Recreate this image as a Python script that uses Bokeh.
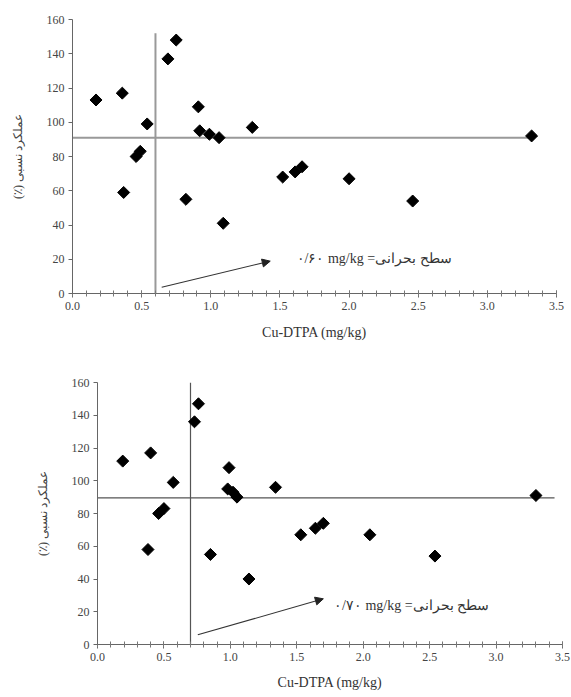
import math
from bokeh.plotting import figure
from bokeh.models import (Range1d, SingleIntervalTicker, FixedTicker, NumeralTickFormatter,
                          Arrow, NormalHead, Label)
from bokeh.embed import file_html
from bokeh.resources import INLINE

# ---- data: top panel ----
x_top = [0.17, 0.36, 0.37, 0.46, 0.49, 0.54, 0.69, 0.75, 0.82, 0.91, 0.92,
         0.99, 1.06, 1.09, 1.30, 1.52, 1.61, 1.66, 2.00, 2.46, 3.32]
y_top = [113, 117, 59, 80, 83, 99, 137, 148, 55, 109, 95,
         93, 91, 41, 97, 68, 71, 74, 67, 54, 92]
crit_top = 0.6
yield_line_top = 91
crit_line_top_y = [0, 152]
yield_line_top_x = [0, 3.30]
arrow_top = (0.645, 3.7, 1.43, 18.9)
label_top = (1.62, 20.5)
text_top = "۰/۶۰ mg/kg =سطح بحرانی"

# ---- data: bottom panel ----
x_bot = [0.19, 0.40, 0.38, 0.46, 0.50, 0.57, 0.73, 0.76, 0.85, 0.99, 0.98,
         1.02, 1.05, 1.14, 1.34, 1.53, 1.64, 1.70, 2.05, 2.54, 3.30]
y_bot = [112, 117, 58, 80, 83, 99, 136, 147, 55, 108, 95,
         93, 90, 40, 96, 67, 71, 74, 67, 54, 91]
crit_bot = 0.7
yield_line_bot = 89.5
crit_line_bot_y = [0, 160]
yield_line_bot_x = [0, 3.44]
arrow_bot = (0.755, 5.9, 1.70, 27.9)
label_bot = (1.78, 23.8)
text_bot = "۰/۷۰ mg/kg =سطح بحرانی"

y_ticks = [0, 20, 40, 60, 80, 100, 120, 140, 160]
x_label = "Cu-DTPA (mg/kg)"
y_label = "(٪) عملکرد نسبی"

SERIF = "'Liberation Serif', 'Times New Roman', serif"


def make_panel(xs, ys, crit, crit_y, yline, yline_x, arr, lab, txt,
               width, height, bl, br, bt, bb, ref_color, ref_width, ylab_standoff, xlab_standoff):
    p = figure(width=width, height=height, output_backend="svg", toolbar_location=None,
               x_range=Range1d(0, 3.5), y_range=Range1d(0, 160),
               min_border_left=bl, min_border_right=br, min_border_top=bt, min_border_bottom=bb)
    p.outline_line_color = None
    p.xgrid.visible = False
    p.ygrid.visible = False
    p.background_fill_color = "white"
    p.border_fill_color = "white"

    # reference lines
    p.line([crit, crit], crit_y, line_color=ref_color, line_width=ref_width)
    p.line(yline_x, [yline, yline], line_color=ref_color, line_width=ref_width)

    # points
    p.scatter(xs, ys, marker="square", angle=math.pi / 4, size=8.5,
              fill_color="black", line_color="black")

    # arrow & label
    p.add_layout(Arrow(end=NormalHead(size=8, fill_color="#222", line_color="#222"),
                       x_start=arr[0], y_start=arr[1], x_end=arr[2], y_end=arr[3],
                       line_color="#333", line_width=1.1))
    p.add_layout(Label(x=lab[0], y=lab[1], text=txt, text_baseline="middle",
                       text_font=SERIF, text_font_size="14px", text_color="#333"))

    # x axis
    xa = p.xaxis[0]
    xa.ticker = SingleIntervalTicker(interval=0.5, num_minor_ticks=5)
    xa.formatter = NumeralTickFormatter(format="0.0")
    xa.axis_label = x_label
    xa.axis_label_text_font = SERIF
    xa.axis_label_text_font_style = "normal"
    xa.axis_label_text_font_size = "14px"
    xa.axis_label_text_color = "#333"
    xa.axis_label_standoff = xlab_standoff
    xa.major_label_text_font = SERIF
    xa.major_label_text_font_size = "12px"
    xa.major_label_text_color = "#444"
    xa.major_label_standoff = 4
    xa.axis_line_color = "#666"
    xa.major_tick_line_color = "#666"
    xa.minor_tick_line_color = "#777"
    xa.major_tick_in = 3
    xa.major_tick_out = 4
    xa.minor_tick_in = 3
    xa.minor_tick_out = 3

    # y axis
    ya = p.yaxis[0]
    ya.ticker = FixedTicker(ticks=y_ticks)
    ya.axis_label = y_label
    ya.axis_label_text_font = SERIF
    ya.axis_label_text_font_style = "normal"
    ya.axis_label_text_font_size = "12px"
    ya.axis_label_text_color = "#444"
    ya.axis_label_standoff = ylab_standoff
    ya.major_label_text_font = SERIF
    ya.major_label_text_font_size = "12px"
    ya.major_label_text_color = "#444"
    ya.major_label_standoff = 4
    ya.axis_line_color = "#666"
    ya.major_tick_line_color = "#666"
    ya.major_tick_in = 0
    ya.major_tick_out = 4
    ya.minor_tick_line_color = None
    return p


p1 = make_panel(x_top, y_top, crit_top, crit_line_top_y, yield_line_top, yield_line_top_x,
                arrow_top, label_top, text_top,
                571, 343, 72, 15, 19, 50, "#999", 2, 19, 12)
p2 = make_panel(x_bot, y_bot, crit_bot, crit_line_bot_y, yield_line_bot, yield_line_bot_x,
                arrow_bot, label_bot, text_bot,
                571, 354, 97, 9, 39, 53, "#555", 1.2, 19, 11)

open("out.html", "w").write(file_html([p1, p2], INLINE))
